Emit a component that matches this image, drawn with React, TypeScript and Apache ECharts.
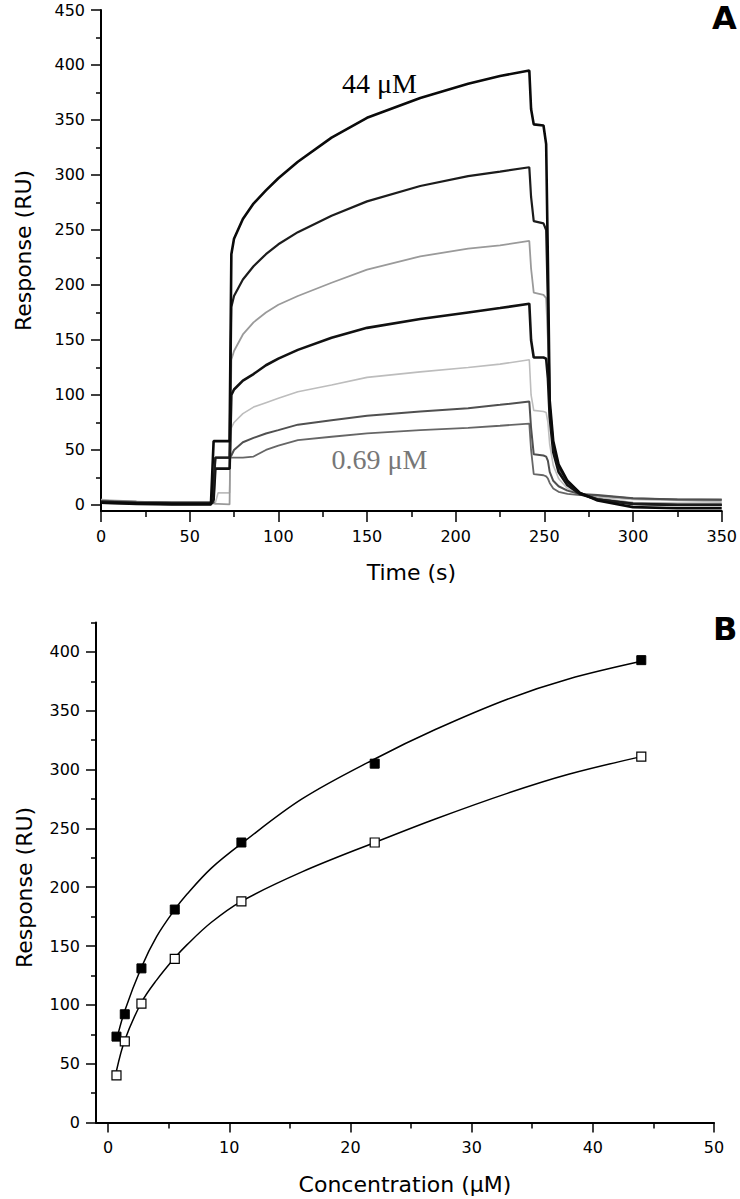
import React, { useEffect, useRef } from "react";
import * as echarts from "echarts";

// ---------- Panel A: sensorgrams ----------
const timeS = [0, 20, 40, 62, 63.5, 64.5, 66, 72.5, 73.5, 75, 80, 86, 93, 100, 111, 130, 150, 180, 207, 225, 241.5, 242.5, 244, 249.5, 251, 252, 253, 255, 258, 263, 270, 280, 300, 325, 350];

const resp44 = [2, 1.5, 1, 1, 58, 58, 58, 58, 228, 242, 260, 274, 286, 297, 312, 334, 352, 370, 383, 390, 395, 360, 346, 345, 328, 220, 95, 58, 37, 22, 11, 4, -2, -3, -3];
const resp22 = [3, 2, 1.5, 1.5, 20, 43, 43, 43, 180, 190, 205, 217, 228, 237, 248, 263, 276, 290, 299, 303, 307, 280, 258, 256, 250, 180, 90, 54, 35, 21, 11, 5, 1, 0, 0];
const resp11 = [4, 3, 2, 2, 1.5, 1, 1, 0.5, 132, 140, 155, 166, 175, 182, 190, 202, 214, 226, 233, 236, 240, 215, 193, 191, 188, 150, 85, 50, 32, 19, 10, 6, 2, 1.5, 1.5];
const resp5_5 = [2, 1, 0.5, 0.5, 5, 33, 33, 33, 100, 105, 113, 119, 127, 133, 141, 152, 161, 169, 175, 179, 183, 150, 134, 134, 133, 115, 80, 48, 30, 18, 10, 5, 1, 0, 0];
const resp2_75 = [5, 3, 2, 2, 2, 2, 11, 11, 70, 75, 83, 89, 93, 97, 103, 109, 116, 121, 125, 128, 132, 100, 86, 85, 84, 75, 55, 36, 24, 15, 9, 7, 5, 4, 3];
const resp1_375 = [3, 2.5, 2, 2, 2, 43, 43, 43, 45, 50, 57, 61, 65, 68, 73, 77, 81, 85, 88, 91, 94, 70, 46, 45, 44, 40, 30, 22, 17, 13, 10, 9, 6, 5, 5];
const resp0_69 = [4, 3, 2.5, 2.5, 20, 43, 43, 43, 43, 43, 43, 44, 50, 54, 59, 62, 65, 68, 70, 72, 74, 50, 28, 27, 26, 24, 20, 15, 12, 10, 9, 8.5, 6, 5, 4.5];

const respTicksA = [0, 50, 100, 150, 200, 250, 300, 350, 400, 450];
const respMinorA = [25, 75, 125, 175, 225, 275, 325, 375, 425];

const labelHigh = "44 μM";
const labelLow = "0.69 μM";

// ---------- Panel B: dose response ----------
const concentrations = [0.69, 1.375, 2.75, 5.5, 11, 22, 44];
const respFilled = [73, 92, 131, 181, 238, 305, 393];
const respOpen = [40, 69, 101, 139, 188, 238, 311];

// fitted curves
const fitConc = [0.69, 1.375, 2.75, 4, 5.5, 6.5, 8.5, 11, 16, 22, 27, 33, 38, 44];
const fitFilled = [70, 95, 132, 158, 181, 194, 216, 237, 275, 309, 334, 360, 377, 392];
const fitOpen = [44, 70, 102, 121, 140, 151, 170, 188, 213, 238, 258, 280, 296, 311];

const concTicks = [0, 10, 20, 30, 40, 50];
const concMinor = [5, 15, 25, 35, 45];
const respTicksB = [0, 50, 100, 150, 200, 250, 300, 350, 400];
const respMinorB = [25, 75, 125, 175, 225, 275, 325, 375, 425];

const pairs = (xs: number[], ys: number[]) => xs.map((x, i) => [x, ys[i]]);

const FONT = "DejaVu Sans";
const tickLabel = { fontFamily: FONT, fontSize: 16, color: "#000" };
const nameStyle = { fontFamily: FONT, fontSize: 22, color: "#000" };
const axisLine = { show: true, onZero: false, lineStyle: { color: "#000", width: 2 } };
const tickLine = { color: "#000", width: 1.5 };

function majorAxis(extra: any) {
  return {
    type: "value",
    splitLine: { show: false },
    axisLine,
    ...extra,
  };
}

function minorAxis(extra: any) {
  return {
    type: "value",
    splitLine: { show: false },
    axisLine: { show: false, onZero: false },
    axisLabel: { show: false },
    ...extra,
  };
}

function sensorLine(name: string, vals: number[], color: string, width: number, extra: any = {}) {
  return {
    type: "line",
    name,
    xAxisIndex: 0,
    yAxisIndex: 0,
    data: pairs(timeS, vals),
    symbol: "none",
    lineStyle: { color, width },
    z: 2,
    ...extra,
  };
}

function textMark(coord: number[], text: string, color: string) {
  return {
    symbol: "circle",
    symbolSize: 1,
    itemStyle: { color: "rgba(0,0,0,0)" },
    label: {
      show: true,
      position: "inside",
      formatter: text,
      fontFamily: "Liberation Serif",
      fontSize: 28,
      color,
    },
    data: [{ coord }],
  };
}

export default function App() {
  const ref = useRef<HTMLDivElement>(null);

  useEffect(() => {
    if (!ref.current) return;
    const chart = echarts.init(ref.current, null, { renderer: "svg" });
    const option: any = {
      animation: false,
      backgroundColor: "#fff",
      grid: [
        { left: 101, top: 10, width: 623, height: 501 },
        { left: 96, top: 622.5, width: 618, height: 500 },
      ],
      xAxis: [
        majorAxis({
          gridIndex: 0,
          position: "bottom",
          min: 0,
          max: 350,
          interval: 50,
          axisTick: { show: true, length: 11, lineStyle: tickLine },
          minorTick: { show: true, splitNumber: 2, length: 6, lineStyle: tickLine },
          axisLabel: { ...tickLabel, margin: 17 },
          name: "Time (s)",
          nameLocation: "middle",
          nameGap: 50,
          nameTextStyle: nameStyle,
        }),
        majorAxis({
          gridIndex: 1,
          position: "bottom",
          min: -1,
          max: 50,
          axisTick: { show: true, length: 10, customValues: concTicks, lineStyle: tickLine },
          axisLabel: { ...tickLabel, margin: 17, customValues: concTicks },
          name: "Concentration (μM)",
          nameLocation: "middle",
          nameGap: 51,
          nameTextStyle: nameStyle,
        }),
        minorAxis({
          gridIndex: 1,
          position: "bottom",
          min: -1,
          max: 50,
          axisTick: { show: true, length: 6, customValues: concMinor, lineStyle: tickLine },
        }),
      ],
      yAxis: [
        majorAxis({
          gridIndex: 0,
          position: "left",
          min: -5.5,
          max: 450,
          axisTick: { show: true, length: 10, customValues: respTicksA, lineStyle: tickLine },
          axisLabel: { ...tickLabel, margin: 16, customValues: respTicksA },
          name: "Response (RU)",
          nameLocation: "middle",
          nameGap: 67,
          nameTextStyle: { ...nameStyle, padding: [0, 0, 0, 20] },
        }),
        minorAxis({
          gridIndex: 0,
          position: "left",
          min: -5.5,
          max: 450,
          axisTick: { show: true, length: 5, customValues: respMinorA, lineStyle: tickLine },
        }),
        majorAxis({
          gridIndex: 1,
          position: "left",
          min: 0,
          max: 425,
          axisTick: { show: true, length: 10, customValues: respTicksB, lineStyle: tickLine },
          axisLabel: { ...tickLabel, margin: 16, customValues: respTicksB },
          name: "Response (RU)",
          nameLocation: "middle",
          nameGap: 61,
          nameTextStyle: { ...nameStyle, padding: [0, 30, 0, 0] },
        }),
        minorAxis({
          gridIndex: 1,
          position: "left",
          min: 0,
          max: 425,
          axisTick: { show: true, length: 5, customValues: respMinorB, lineStyle: tickLine },
        }),
      ],
      series: [
        sensorLine("2.75 μM", resp2_75, "#bdbdbd", 1.6),
        sensorLine("11 μM", resp11, "#9a9a9a", 1.8),
        sensorLine("0.69 μM", resp0_69, "#666666", 1.8, { markPoint: textMark([157, 41], labelLow, "#777777") }),
        sensorLine("1.375 μM", resp1_375, "#505050", 2),
        sensorLine("5.5 μM", resp5_5, "#111111", 2.6),
        sensorLine("22 μM", resp22, "#1c1c1c", 2.2),
        sensorLine("44 μM", resp44, "#0a0a0a", 2.6, { markPoint: textMark([157, 383], labelHigh, "#000000") }),
        {
          type: "line",
          name: "fit filled",
          xAxisIndex: 1,
          yAxisIndex: 2,
          data: pairs(fitConc, fitFilled),
          smooth: 0.35,
          symbol: "none",
          lineStyle: { color: "#000", width: 1.5 },
          z: 2,
        },
        {
          type: "line",
          name: "fit open",
          xAxisIndex: 1,
          yAxisIndex: 2,
          data: pairs(fitConc, fitOpen),
          smooth: 0.35,
          symbol: "none",
          lineStyle: { color: "#000", width: 1.5 },
          z: 2,
        },
        {
          type: "scatter",
          name: "filled",
          xAxisIndex: 1,
          yAxisIndex: 2,
          data: pairs(concentrations, respFilled),
          symbol: "rect",
          symbolSize: 9,
          itemStyle: { color: "#000", borderColor: "#000", borderWidth: 1, opacity: 1 },
          z: 3,
        },
        {
          type: "scatter",
          name: "open",
          xAxisIndex: 1,
          yAxisIndex: 2,
          data: pairs(concentrations, respOpen),
          symbol: "rect",
          symbolSize: 9,
          itemStyle: { color: "#fff", borderColor: "#000", borderWidth: 1.2, opacity: 1 },
          z: 3,
        },
      ],
      graphic: [
        {
          type: "text",
          left: 712,
          top: 2,
          style: { text: "A", fontFamily: FONT, fontWeight: "bold", fontSize: 32, fill: "#000" },
        },
        {
          type: "text",
          left: 713,
          top: 613,
          style: { text: "B", fontFamily: FONT, fontWeight: "bold", fontSize: 32, fill: "#000" },
        },
      ],
    };
    chart.setOption(option);
    return () => chart.dispose();
  }, []);

  return (
    <div
      ref={ref}
      style={{ position: "absolute", left: 0, top: 0, width: 740, height: 1199, background: "#fff" }}
    />
  );
}
